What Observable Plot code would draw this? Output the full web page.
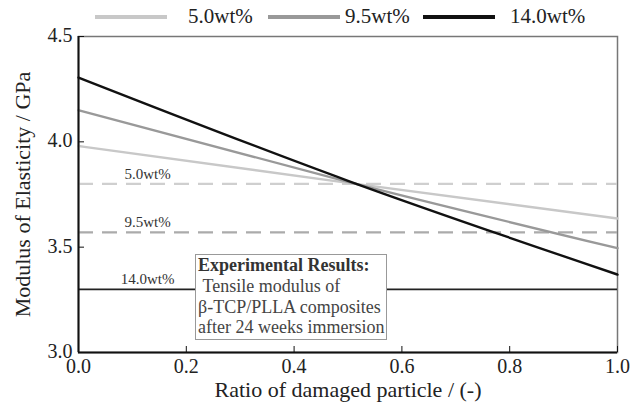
<!DOCTYPE html>
<html>
<head>
<meta charset="utf-8">
<script src="https://cdn.jsdelivr.net/npm/d3@7"></script>
<script src="https://cdn.jsdelivr.net/npm/@observablehq/plot@0.6"></script>
<style>
  html, body { margin: 0; padding: 0; background: #fff; }
  #wrap { position: relative; width: 630px; height: 412px;
          font-family: "Liberation Serif", "Times New Roman", Times, Tinos, "Nimbus Roman", "DejaVu Serif", "Noto Serif", serif; }
  #legend { position: absolute; left: 0; top: 0; width: 630px; height: 34px; }
  .lg-line { position: absolute; top: 15px; height: 4px; width: 72px; }
  .lg-text { position: absolute; top: 4px; font-size: 21px; line-height: 24px; color: #222; }
  #note { position: absolute; left: 195px; top: 254px; width: 192px; height: 86px;
          border: 1.5px solid #999; background: #fff; font-size: 18px; line-height: 20.8px;
          color: #444; padding: 0 0 0 2px; box-sizing: border-box; white-space: nowrap; }
  #note b { color: #333; }
</style>
</head>
<body>
<div id="wrap">
  <div id="chart"></div>
  <div id="legend"></div>
  <div id="note"></div>
</div>
<script>
const serifStack = "'Liberation Serif', 'Times New Roman', Times, Tinos, 'Nimbus Roman', 'DejaVu Serif', 'Noto Serif', serif";

// Ratio of damaged particle
const ratio = [0, 0.5, 1];
// Series labels and colours
const series = ["5.0wt%", "9.5wt%", "14.0wt%"];
const colors = ["#c8c8c8", "#999999", "#111111"];
// Predicted modulus (GPa) at each ratio
const model5 = [3.98, 3.805, 3.636];
const model95 = [4.15, 3.81, 3.495];
const model14 = [4.305, 3.815, 3.37];
// Measured tensile modulus (GPa) after 24 weeks
const experimental = [3.80, 3.57, 3.30];
// Axis ticks
const xTicks = [0, 0.2, 0.4, 0.6, 0.8, 1.0];
const yTicks = [3.0, 3.5, 4.0, 4.5];

const modelRows = [model5, model95, model14].flatMap((vals, i) =>
  vals.map((v, j) => ({ series: series[i], x: ratio[j], y: v }))
);
const expRows = experimental.map((v, i) => ({ series: series[i], y: v }));
const fmt = d3.format(".1f");

const chart = Plot.plot({
  width: 630,
  height: 412,
  marginLeft: 78,
  marginRight: 13,
  marginTop: 36,
  marginBottom: 60,
  style: { fontFamily: serifStack, background: "transparent", color: "#222" },
  x: { domain: [0, 1] },
  y: { domain: [3.0, 4.5] },
  color: { domain: series, range: colors },
  marks: [
    Plot.frame({ stroke: "#777", strokeWidth: 1.5 }),
    // experimental levels: dashed for 5.0 and 9.5, solid for 14.0
    Plot.ruleY(expRows.slice(0, 2), {
      y: "y", stroke: (d, i) => ["#cfcfcf", "#ababab"][i], strokeWidth: 2.2,
      strokeDasharray: "15,9"
    }),
    Plot.ruleY(expRows.slice(2), { y: "y", stroke: "#222", strokeWidth: 1.8 }),
    Plot.text(expRows, {
      x: () => 0, y: "y", text: "series", dx: 69, dy: -10,
      fontSize: 15, fill: "#333", textAnchor: "middle"
    }),
    Plot.line(modelRows, { x: "x", y: "y", z: "series", stroke: "series", strokeWidth: 2.4, curve: "natural" }),
    Plot.ruleX([0], { stroke: "#111", strokeWidth: 2 }),
    Plot.ruleY([3.0], { stroke: "#111", strokeWidth: 2 }),
    // inward tick marks
    Plot.axisX({ ticks: xTicks, tickSize: 6, dy: -6, text: null, label: null, stroke: "#111" }),
    Plot.axisY({ ticks: yTicks, tickSize: 6, dx: 6, text: null, label: null, stroke: "#111" }),
    // tick labels and axis titles
    Plot.axisX({ ticks: xTicks, tickFormat: fmt, tickSize: 0, tickPadding: 6, fontSize: 20,
      label: "Ratio of damaged particle / (-)", labelAnchor: "center", labelArrow: "none", labelOffset: 44 }),
    Plot.axisY({ ticks: yTicks, tickFormat: fmt, tickSize: 0, tickPadding: 6, fontSize: 20, dy: -1,
      label: "Modulus of Elasticity / GPa", labelAnchor: "center", labelArrow: "none", labelOffset: 64 })
  ]
});
document.getElementById("chart").appendChild(chart);

d3.select(chart).selectAll("[aria-label='x-axis label'] text, [aria-label='y-axis label'] text")
  .style("font-size", "22px");

// legend
const legend = d3.select("#legend");
const lineLeft = [95, 268, 423];
const textLeft = [188, 345, 510];
series.forEach((s, i) => {
  legend.append("div").attr("class", "lg-line")
    .style("left", lineLeft[i] + "px").style("background", colors[i]);
  legend.append("div").attr("class", "lg-text")
    .style("left", textLeft[i] + "px").text(s);
});

// experimental results note
const noteLines = ["Tensile modulus of", "β-TCP/PLLA composites", "after 24 weeks immersion"];
const note = d3.select("#note");
note.append("b").text("Experimental Results:");
noteLines.forEach((t, i) => {
  note.append("br");
  note.append("span").text(i === 0 ? "\u00a0" + t : t);
});
</script>
</body>
</html>
